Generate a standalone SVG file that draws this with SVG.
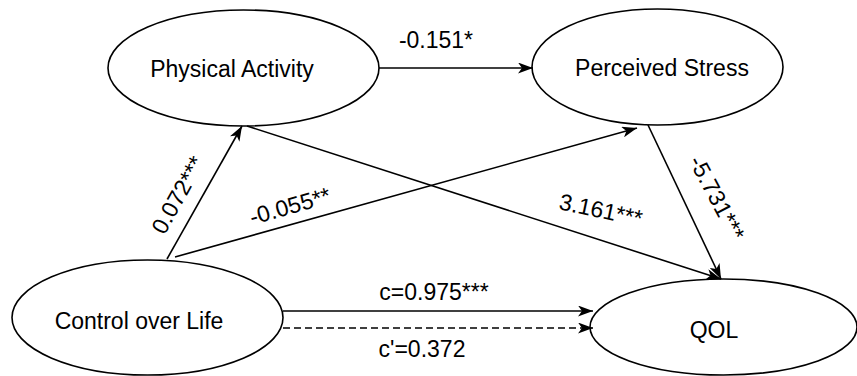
<svg xmlns="http://www.w3.org/2000/svg" width="857" height="376" viewBox="0 0 857 376">
<defs>
<style>
.node ellipse{fill:#fff;stroke:#000;stroke-width:1.6}
text{font-family:"Liberation Sans",Arial,sans-serif;font-size:23px;fill:#000}
.nl{text-anchor:middle}
.edge{fill:none;stroke:#000;stroke-width:1.6;marker-end:url(#arr)}
.dash{stroke-dasharray:7 4}
.lbl{text-anchor:middle}
</style>
<marker id="arr" markerUnits="userSpaceOnUse" viewBox="0 0 15 11" refX="15" refY="5.5" markerWidth="15" markerHeight="11" orient="auto">
<path d="M0,0 L15,5.5 L0,11 L4,5.5 Z" fill="#000"/>
</marker>
</defs>
<rect width="857" height="376" fill="#fff"/>
<g id="node-physical-activity" class="node">
<ellipse cx="243.5" cy="68" rx="135.5" ry="58"/>
<text class="nl" x="232" y="77">Physical Activity</text>
</g>
<g id="node-perceived-stress" class="node">
<ellipse cx="657.5" cy="67" rx="125.5" ry="58"/>
<text class="nl" x="662" y="76">Perceived Stress</text>
</g>
<g id="node-control-over-life" class="node">
<ellipse cx="147.5" cy="317.5" rx="135.5" ry="57.5"/>
<text class="nl" x="139" y="329">Control over Life</text>
</g>
<g id="node-qol" class="node">
<ellipse cx="723.5" cy="327" rx="133.5" ry="48"/>
<text class="nl" x="714" y="338">QOL</text>
</g>
<g id="connectors">
<line class="edge" x1="379" y1="68" x2="533" y2="68"/>
<line class="edge" x1="167" y1="259" x2="242" y2="126"/>
<line class="edge" x1="175" y1="257" x2="637" y2="128"/>
<line class="edge" x1="247" y1="126" x2="721" y2="279"/>
<line class="edge" x1="648" y1="125" x2="721" y2="279"/>
<line class="edge" x1="283" y1="311" x2="593" y2="311"/>
<line class="edge dash" x1="283" y1="328" x2="593" y2="328"/>
<text class="lbl" x="436" y="48">-0.151*</text>
<text class="lbl" transform="translate(178,195) rotate(-61)" y="8">0.072***</text>
<text class="lbl" transform="translate(290,206) rotate(-16)" y="8">-0.055**</text>
<text class="lbl" transform="translate(601,210) rotate(12)" y="8">3.161***</text>
<text class="lbl" transform="translate(717,198) rotate(62)" y="8">-5.731***</text>
<text class="lbl" x="434" y="300">c=0.975***</text>
<text class="lbl" x="422" y="357">c'=0.372</text>
</g>
</svg>
